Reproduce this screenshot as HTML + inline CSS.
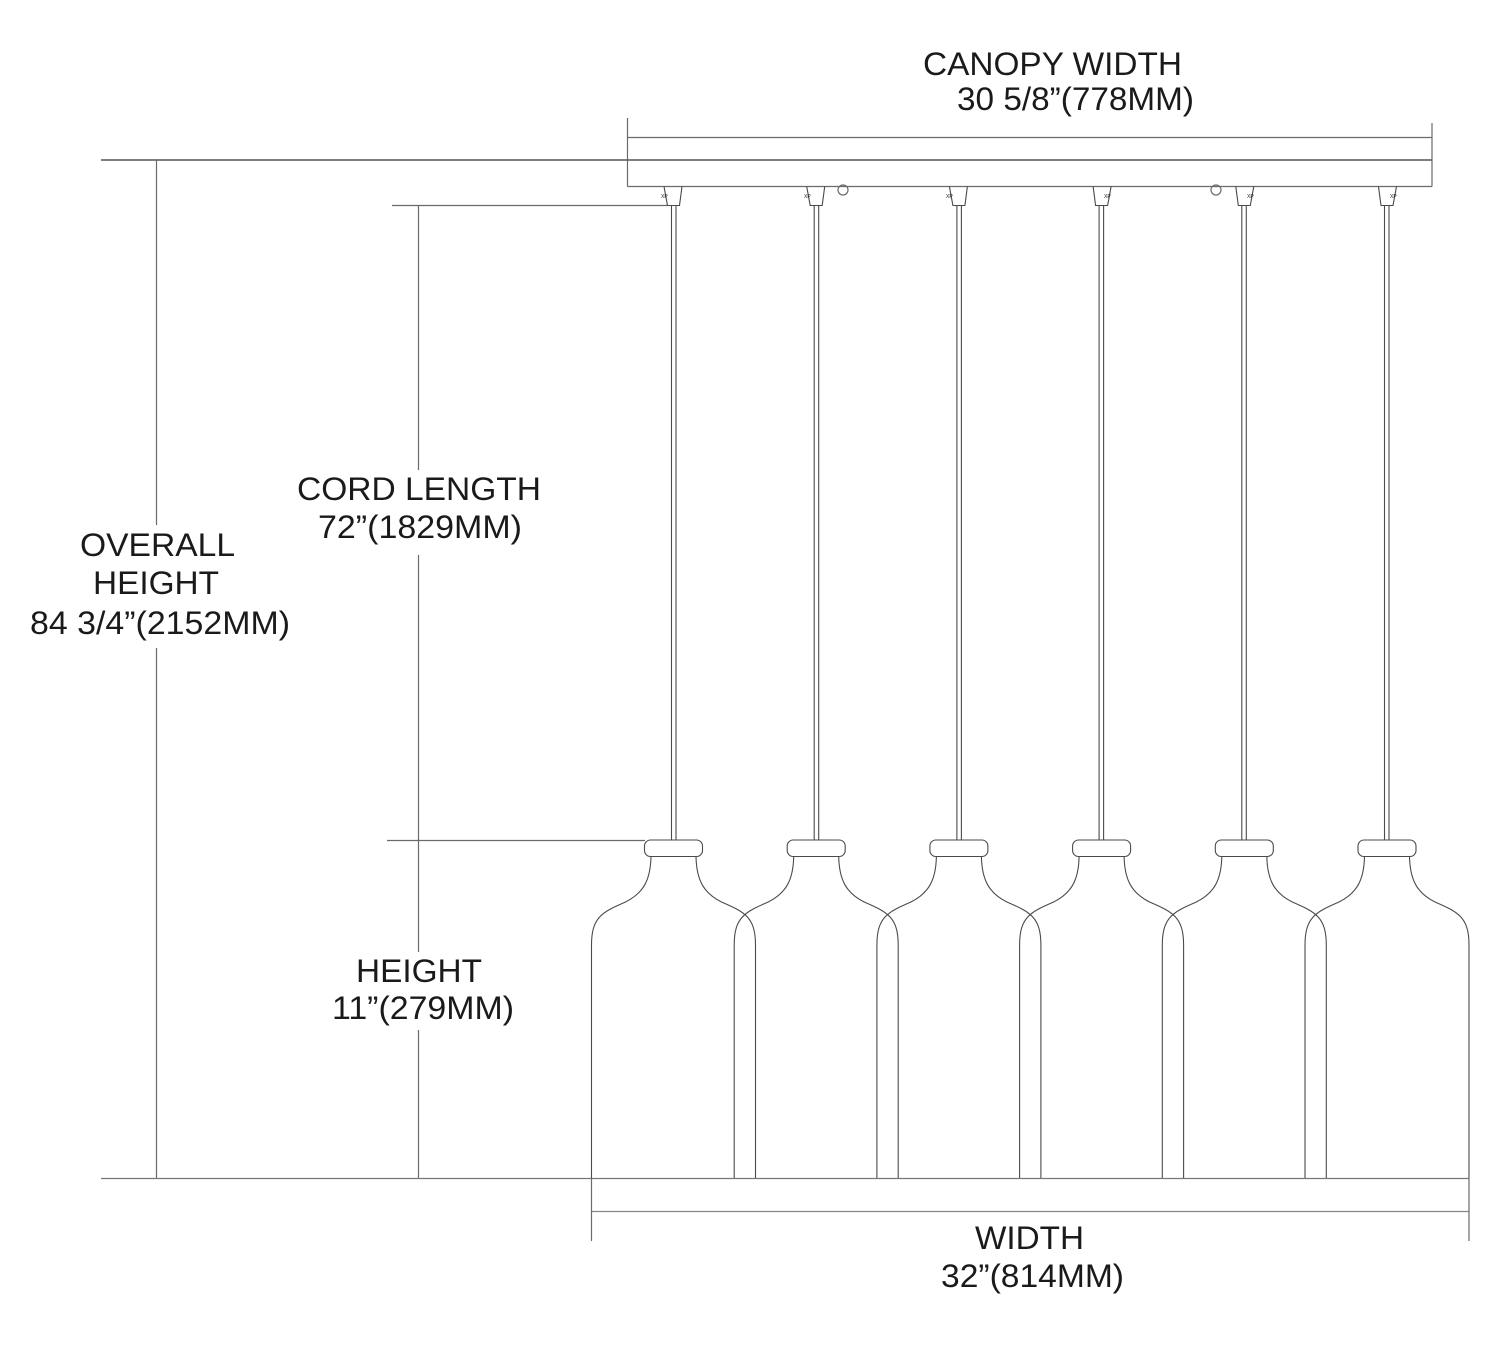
<!DOCTYPE html>
<html>
<head>
<meta charset="utf-8">
<style>
html,body{margin:0;padding:0;background:#fff;}
svg{display:block;}
text{font-family:"Liberation Sans",Arial,sans-serif;fill:#1a1a1a;}
</style>
</head>
<body>
<svg width="1500" height="1346" viewBox="0 0 1500 1346" xmlns="http://www.w3.org/2000/svg">
<g fill="none" stroke="#6a6a6a" stroke-width="1.2">
  <!-- canopy -->
  <line x1="627.5" y1="118" x2="627.5" y2="186.5"/>
  <line x1="1432" y1="123" x2="1432" y2="186.5"/>
  <line x1="627.5" y1="137.5" x2="1432" y2="137.5"/>
  <line x1="101" y1="160" x2="1432" y2="160" stroke-width="1.6" stroke="#555"/>
  <line x1="627.5" y1="186.5" x2="1432" y2="186.5"/>
  <circle cx="843" cy="190" r="5"/>
  <circle cx="1216" cy="190" r="5"/>
  <!-- overall height (broken around label) -->
  <line x1="156.5" y1="160" x2="156.5" y2="525"/>
  <line x1="156.5" y1="648" x2="156.5" y2="1178"/>
  <!-- cord length / height -->
  <line x1="392" y1="205.5" x2="667" y2="205.5"/>
  <line x1="418.5" y1="205.5" x2="418.5" y2="470"/>
  <line x1="418.5" y1="555" x2="418.5" y2="952"/>
  <line x1="418.5" y1="1030" x2="418.5" y2="1178"/>
  <line x1="387" y1="840.5" x2="645" y2="840.5"/>
  <!-- bottom -->
  <line x1="101" y1="1178.5" x2="1469" y2="1178.5" stroke="#777"/>
  <line x1="591.5" y1="1211.5" x2="1469" y2="1211.5" stroke="#888"/>
  <line x1="591.5" y1="1178" x2="591.5" y2="1241"/>
  <line x1="1469" y1="1178" x2="1469" y2="1241"/>
</g>

<!-- pendants -->
<g fill="none" stroke="#4a4a4a" stroke-width="1.1">
  <g transform="translate(673.5,0)">
    <path d="M-9.5 186.5 L-6 205.5 L6 205.5 L8.5 186.5"/>
    <line x1="-2" y1="205.5" x2="-2" y2="840"/><line x1="2.5" y1="205.5" x2="2.5" y2="840"/>
    <rect x="-29" y="840" width="58" height="16.5" rx="6"/>
    <path d="M-22.5 856.5 C-23 880 -30 893 -48 902 C-71 912 -82 917 -82 945 L-82 1178"/>
    <path d="M22.5 856.5 C23 880 30 893 48 902 C71 912 82 917 82 945 L82 1178"/>
  </g>
  <g transform="translate(816.2,0)">
    <path d="M-9.5 186.5 L-6 205.5 L6 205.5 L8.5 186.5"/>
    <line x1="-2" y1="205.5" x2="-2" y2="840"/><line x1="2.5" y1="205.5" x2="2.5" y2="840"/>
    <rect x="-29" y="840" width="58" height="16.5" rx="6"/>
    <path d="M-22.5 856.5 C-23 880 -30 893 -48 902 C-71 912 -82 917 -82 945 L-82 1178"/>
    <path d="M22.5 856.5 C23 880 30 893 48 902 C71 912 82 917 82 945 L82 1178"/>
  </g>
  <g transform="translate(958.9,0)">
    <path d="M-9.5 186.5 L-6 205.5 L6 205.5 L8.5 186.5"/>
    <line x1="-2" y1="205.5" x2="-2" y2="840"/><line x1="2.5" y1="205.5" x2="2.5" y2="840"/>
    <rect x="-29" y="840" width="58" height="16.5" rx="6"/>
    <path d="M-22.5 856.5 C-23 880 -30 893 -48 902 C-71 912 -82 917 -82 945 L-82 1178"/>
    <path d="M22.5 856.5 C23 880 30 893 48 902 C71 912 82 917 82 945 L82 1178"/>
  </g>
  <g transform="translate(1101.6,0)">
    <path d="M-8.5 186.5 L-6 205.5 L6 205.5 L9.5 186.5"/>
    <line x1="-2.5" y1="205.5" x2="-2.5" y2="840"/><line x1="2" y1="205.5" x2="2" y2="840"/>
    <rect x="-29" y="840" width="58" height="16.5" rx="6"/>
    <path d="M-22.5 856.5 C-23 880 -30 893 -48 902 C-71 912 -82 917 -82 945 L-82 1178"/>
    <path d="M22.5 856.5 C23 880 30 893 48 902 C71 912 82 917 82 945 L82 1178"/>
  </g>
  <g transform="translate(1244.3,0)">
    <path d="M-8.5 186.5 L-6 205.5 L6 205.5 L9.5 186.5"/>
    <line x1="-2.5" y1="205.5" x2="-2.5" y2="840"/><line x1="2" y1="205.5" x2="2" y2="840"/>
    <rect x="-29" y="840" width="58" height="16.5" rx="6"/>
    <path d="M-22.5 856.5 C-23 880 -30 893 -48 902 C-71 912 -82 917 -82 945 L-82 1178"/>
    <path d="M22.5 856.5 C23 880 30 893 48 902 C71 912 82 917 82 945 L82 1178"/>
  </g>
  <g transform="translate(1387,0)">
    <path d="M-8.5 186.5 L-6 205.5 L6 205.5 L9.5 186.5"/>
    <line x1="-2.5" y1="205.5" x2="-2.5" y2="840"/><line x1="2" y1="205.5" x2="2" y2="840"/>
    <rect x="-29" y="840" width="58" height="16.5" rx="6"/>
    <path d="M-22.5 856.5 C-23 880 -30 893 -48 902 C-71 912 -82 917 -82 945 L-82 1178"/>
    <path d="M22.5 856.5 C23 880 30 893 48 902 C71 912 82 917 82 945 L82 1178"/>
  </g>
</g>

<!-- tiny mount labels -->
<g font-size="5">
  <text x="661" y="198">XP</text>
  <text x="804" y="198">XP</text>
  <text x="946" y="198">XP</text>
  <text x="1104" y="198">XP</text>
  <text x="1247" y="198">XP</text>
  <text x="1390" y="198">XP</text>
</g>

<!-- labels -->
<g font-size="32">
  <text x="923" y="75" textLength="259" lengthAdjust="spacingAndGlyphs">CANOPY WIDTH</text>
  <text x="957" y="110" textLength="237" lengthAdjust="spacingAndGlyphs">30 5/8”(778MM)</text>

  <text x="297" y="500" textLength="244" lengthAdjust="spacingAndGlyphs">CORD LENGTH</text>
  <text x="318" y="538" textLength="204" lengthAdjust="spacingAndGlyphs">72”(1829MM)</text>

  <text x="80" y="556" textLength="155" lengthAdjust="spacingAndGlyphs">OVERALL</text>
  <text x="93" y="594" textLength="126" lengthAdjust="spacingAndGlyphs">HEIGHT</text>
  <text x="30" y="634" textLength="260" lengthAdjust="spacingAndGlyphs">84 3/4”(2152MM)</text>

  <text x="356" y="982" textLength="126" lengthAdjust="spacingAndGlyphs">HEIGHT</text>
  <text x="332" y="1019" textLength="182" lengthAdjust="spacingAndGlyphs">11”(279MM)</text>

  <text x="975" y="1249" textLength="109" lengthAdjust="spacingAndGlyphs">WIDTH</text>
  <text x="941" y="1287" textLength="183" lengthAdjust="spacingAndGlyphs">32”(814MM)</text>
</g>
</svg>
</body>
</html>
